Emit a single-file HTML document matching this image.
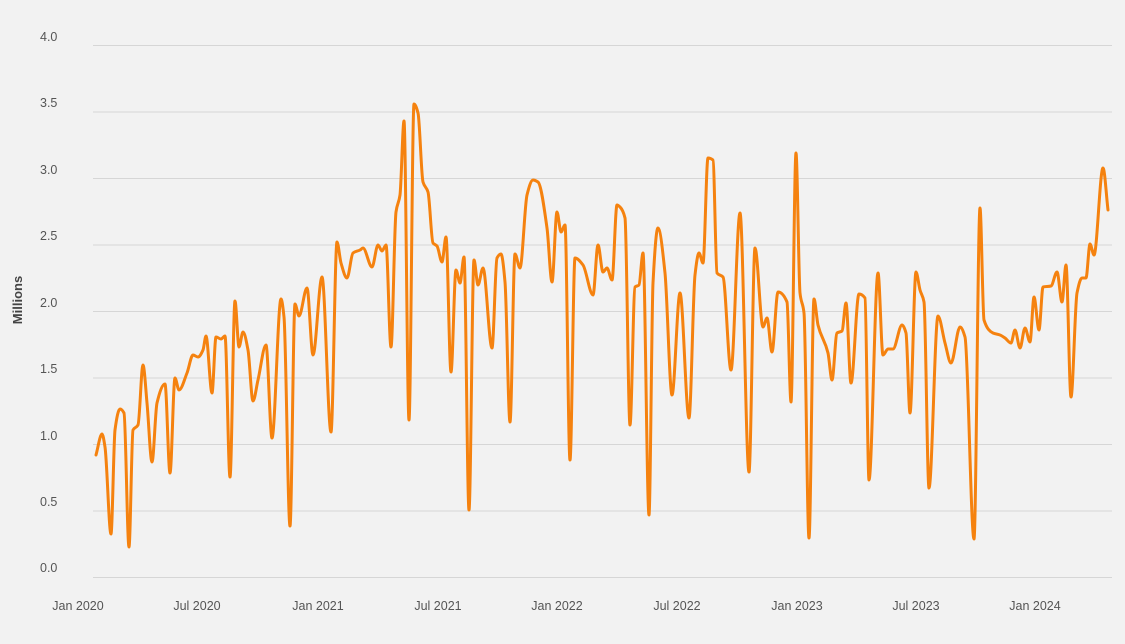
<!DOCTYPE html>
<html><head><meta charset="utf-8"><style>
html,body{margin:0;padding:0;background:#f2f2f2;}
svg{display:block;font-family:"Liberation Sans",sans-serif;}
</style></head><body>
<svg width="1125" height="644" viewBox="0 0 1125 644">
<rect width="1125" height="644" fill="#f2f2f2"/>
<g stroke="#d6d6d6" stroke-width="1">
<line x1="93" x2="1112" y1="45.5" y2="45.5"/>
<line x1="93" x2="1112" y1="112" y2="112"/>
<line x1="93" x2="1112" y1="178.5" y2="178.5"/>
<line x1="93" x2="1112" y1="245" y2="245"/>
<line x1="93" x2="1112" y1="311.5" y2="311.5"/>
<line x1="93" x2="1112" y1="378" y2="378"/>
<line x1="93" x2="1112" y1="444.5" y2="444.5"/>
<line x1="93" x2="1112" y1="511" y2="511"/>
<line x1="93" x2="1112" y1="577.5" y2="577.5"/>
</g>
<g fill="#555" font-size="12.5">
<text x="40" y="41">4.0</text>
<text x="40" y="107">3.5</text>
<text x="40" y="174">3.0</text>
<text x="40" y="240">2.5</text>
<text x="40" y="307">2.0</text>
<text x="40" y="373">1.5</text>
<text x="40" y="440">1.0</text>
<text x="40" y="506">0.5</text>
<text x="40" y="572">0.0</text>
</g>
<g fill="#555" font-size="12.5" text-anchor="middle">
<text x="78" y="610">Jan 2020</text>
<text x="197" y="610">Jul 2020</text>
<text x="318" y="610">Jan 2021</text>
<text x="438" y="610">Jul 2021</text>
<text x="557" y="610">Jan 2022</text>
<text x="677" y="610">Jul 2022</text>
<text x="797" y="610">Jan 2023</text>
<text x="916" y="610">Jul 2023</text>
<text x="1035" y="610">Jan 2024</text>
</g>
<text transform="translate(22,300) rotate(-90)" text-anchor="middle" fill="#444" font-size="13" font-weight="bold">Millions</text>
<polyline id="ln" fill="none" stroke="#f5820f" stroke-width="3" stroke-linejoin="round" stroke-linecap="round" points="
96,455 102,434 105,447 111,534 115,430 120,409 124,413 129,547 133,430 138,425 143,365 147,403 152,462 157,403 165,384 170,473 175,378 179,390 187,373 193,355 198,357 203,350 206,336 212,393 216,337 221,339 225,336 230,477 235,301 239,347 243,332 248,350 253,401 258,380 266,345 272,438 281,299 284,317 290,526 295,304 299,316 307,288 313,355 322,277 331,432 337,242 341,263 347,278 353,253 360,250
363,248 372,267 378,245 382,251 386,245 391,347 396,212 400,195 404,121 409,420 414,104 418,113 423,182 428,192 433,243 437,246 442,262 446,237 451,372 456,270 460,283 464,257 469,510 474,260 478,285 483,268 492,348 497,258 501,254 505,282 510,422 515,254 520,268 527,195 533,180 538,182 547,228 552,282 557,212 561,232 565,225 570,460 575,258 583,265 593,295 598,245 603,272 607,268 612,280 617,205 620,207
625,218 630,425 635,287 639,285 643,253 649,515 653,283 658,228 665,273 672,395 680,293 689,418 695,275 699,253 703,263 708,158 713,160 717,273 723,277 731,370 740,213 749,472 755,248 763,327 767,318 772,352 778,292 787,302 791,402 796,153 800,293 804,313 809,538 814,299 818,325 828,353 832,380 837,333 842,331 846,303 851,383 859,294 865,298 869,480 878,273 883,355 888,349 893,349 902,325 906,333 910,413 916,272 920,290 924,302 929,488 938,316 945,343 951,363 960,327 965,337 974,539 980,208 984,320 993,333 1000,335 1005,338 1011,343 1015,330 1020,348 1025,328 1030,342 1034,297 1039,330 1043,287 1051,286 1057,272 1062,302 1066,265 1071,397 1077,293 1082,278 1086,278 1090,244 1094,255 1103,168 1108,210"/>
</svg>
<script>
(function(){
var pl=document.getElementById('ln');
var nums=pl.getAttribute('points').trim().split(/[\s,]+/).map(Number);
var x=[],y=[];for(var i=0;i<nums.length;i+=2){x.push(nums[i]);y.push(nums[i+1]);}
var n=x.length,s=[],m=[];
for(var i=0;i<n-1;i++)s.push((y[i+1]-y[i])/(x[i+1]-x[i]));
for(var i=0;i<n;i++){
 if(i==0)m.push(s[0]);else if(i==n-1)m.push(s[n-2]);
 else if(s[i-1]*s[i]<=0)m.push(0);
 else{var h0=x[i]-x[i-1],h1=x[i+1]-x[i];
  var w1=2*h1+h0,w2=h1+2*h0;
  m.push((w1+w2)/(w1/s[i-1]+w2/s[i]));}
}
var d='M'+x[0]+','+y[0];
for(var i=0;i<n-1;i++){
 var h=(x[i+1]-x[i])/3;
 d+=' C'+(x[i]+h).toFixed(1)+','+(y[i]+m[i]*h).toFixed(1)+' '+(x[i+1]-h).toFixed(1)+','+(y[i+1]-m[i+1]*h).toFixed(1)+' '+x[i+1]+','+y[i+1];
}
var path=document.createElementNS('http://www.w3.org/2000/svg','path');
path.setAttribute('d',d);path.setAttribute('fill','none');path.setAttribute('stroke','#f5820f');
path.setAttribute('stroke-width','3');path.setAttribute('stroke-linejoin','round');path.setAttribute('stroke-linecap','round');
pl.parentNode.replaceChild(path,pl);
})();
</script>
</body></html>
